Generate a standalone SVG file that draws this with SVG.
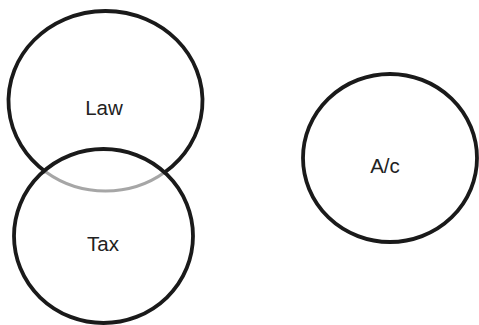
<svg xmlns="http://www.w3.org/2000/svg" width="479" height="325" viewBox="0 0 479 325">
<style>
.c{fill:none;stroke:#1a1a1a;stroke-width:3.8}
.g{fill:none;stroke:#a6a6a6;stroke-width:3.2}
.t{font-family:"Liberation Sans",Arial,sans-serif;font-size:20.5px;fill:#222;text-anchor:middle}
</style>
<rect width="479" height="325" fill="#fff"/>
<g id="law">
<path class="c" d="M165.1 172 A97 90 0 1 0 45.9 172"/>
<path class="g" d="M45.9 172 A97 90 0 0 0 165.1 172"/>
<text class="t" x="104" y="115">Law</text>
</g>
<g id="tax">
<ellipse class="c" cx="103.5" cy="236" rx="89.5" ry="87"/>
<text class="t" x="103" y="251">Tax</text>
</g>
<g id="ac">
<ellipse class="c" cx="390" cy="158" rx="87" ry="84"/>
<text class="t" x="385" y="173">A/c</text>
</g>
<g id="connectors"/>
</svg>
